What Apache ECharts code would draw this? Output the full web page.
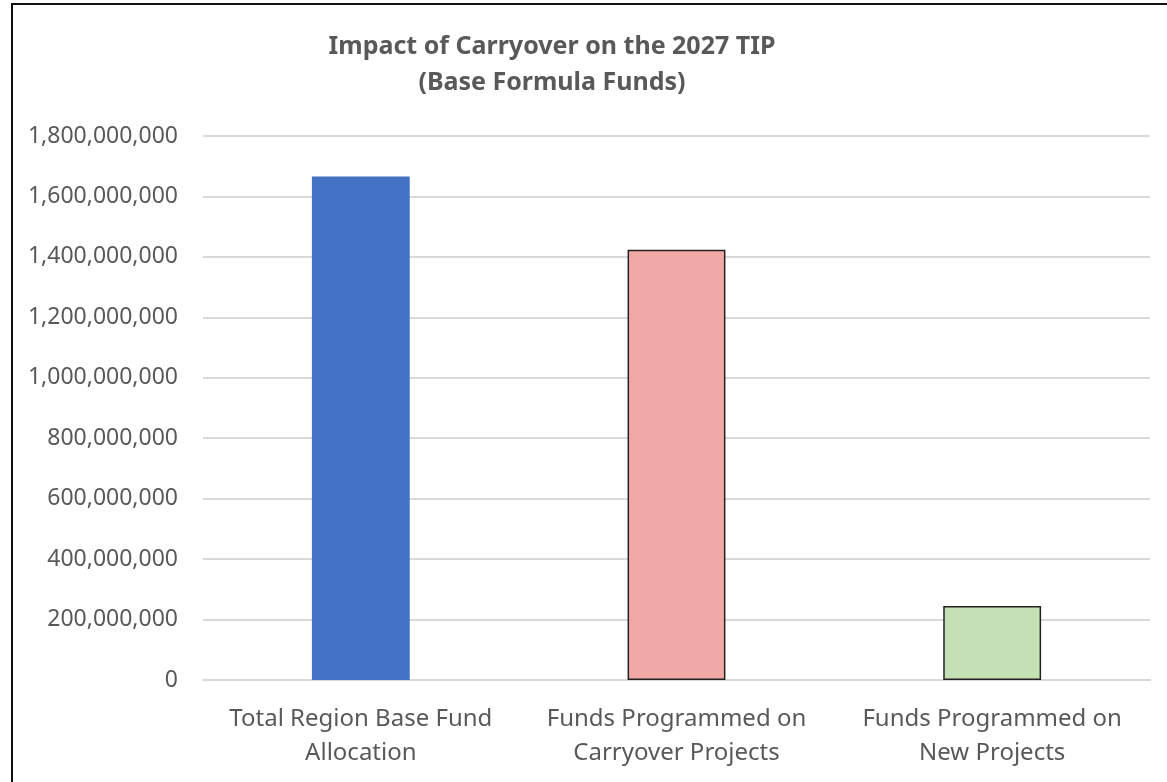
<!DOCTYPE html>
<html>
<head>
<meta charset="utf-8">
<script src="https://cdn.jsdelivr.net/npm/echarts@6/dist/echarts.min.js"></script>
<style>
    html, body { margin: 0; padding: 0; background: #fff; overflow: hidden; }
    #chart { width: 1167px; height: 782px; }
    .frame {
        position: absolute;
        left: 11px;
        top: 3px;
        width: 1200px;
        height: 820px;
        border: 2px solid #111;
        pointer-events: none;
    }
</style>
</head>
<body>
<div id="chart"></div>
<div class="frame"></div>
<script>
    const categories = [
        'Total Region Base Fund\nAllocation',
        'Funds Programmed on\nCarryover Projects',
        'Funds Programmed on\nNew Projects'
    ];
    const amounts = [1666000000, 1424000000, 245000000];
    const barColors = ['#4472c4', '#f1a9a7', '#c5e0b4'];
    const barBorders = ['#4472c4', '#222', '#222'];

    var myChart = echarts.init(document.getElementById('chart'));

    var option = {
        animation: false,
        textStyle: { fontFamily: 'Noto Sans' },
        title: {
            text: 'Impact of Carryover on the 2027 TIP\n(Base Formula Funds)',
            left: 547,
            textAlign: 'center',
            top: 24,
            textStyle: {
                fontSize: 25,
                fontWeight: 'bold',
                color: '#595959',
                lineHeight: 36
            }
        },
        grid: {
            left: 203,
            right: 17,
            top: 136,
            bottom: 102
        },
        xAxis: {
            type: 'category',
            data: categories,
            axisLine: { lineStyle: { color: '#d9d9d9', width: 2 } },
            axisTick: { show: false },
            axisLabel: {
                color: '#595959',
                fontSize: 24,
                lineHeight: 34,
                margin: 22,
                interval: 0
            }
        },
        yAxis: {
            type: 'value',
            min: 0,
            max: 1800000000,
            interval: 200000000,
            axisLine: { show: false },
            axisTick: { show: false },
            splitLine: { lineStyle: { color: '#d9d9d9', width: 2 } },
            axisLabel: {
                color: '#595959',
                fontSize: 23,
                margin: 25,
                formatter: function (v) {
                    return v.toLocaleString('en-US');
                }
            }
        },
        series: [{
            type: 'bar',
            barWidth: '31%',
            data: amounts.map(function (v, i) {
                return {
                    value: v,
                    itemStyle: {
                        color: barColors[i],
                        borderColor: barBorders[i],
                        borderWidth: i === 0 ? 0 : 1.5
                    }
                };
            })
        }]
    };

    myChart.setOption(option);
</script>
</body>
</html>
